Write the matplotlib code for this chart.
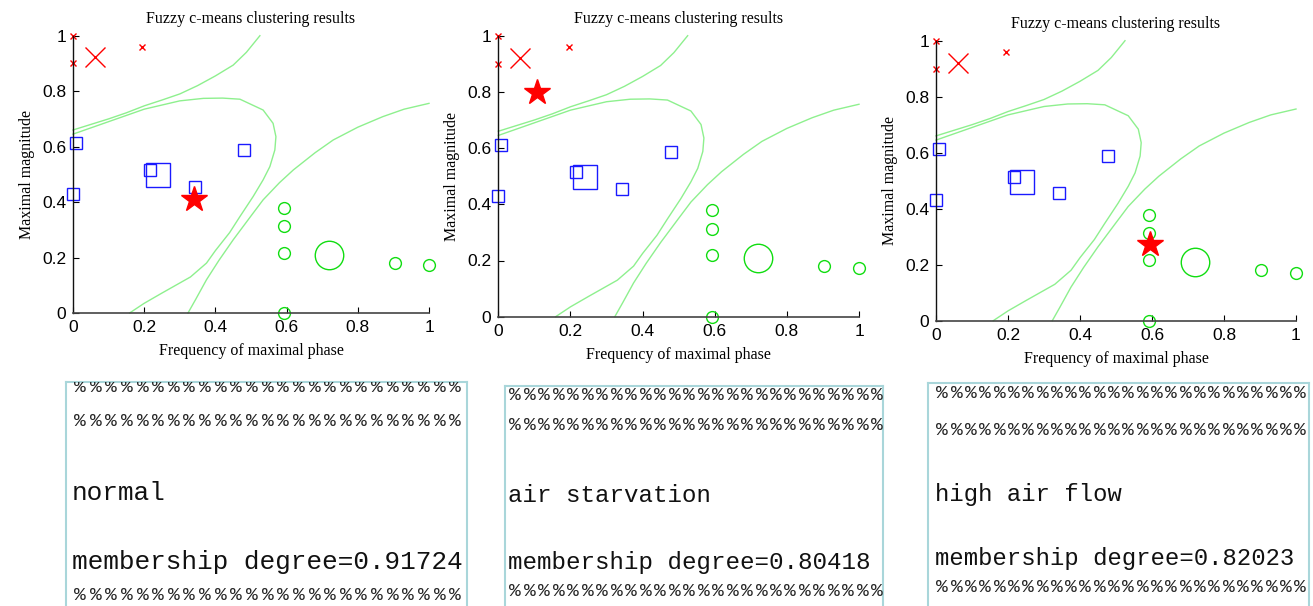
import matplotlib
matplotlib.use("Agg")
import matplotlib.pyplot as plt

# ---------------- data ----------------
titles = ["Fuzzy c-means clustering results"] * 3
xlabel = "Frequency of maximal phase"
ylabel = "Maximal magnitude"
tick_vals = [0, 0.2, 0.4, 0.6, 0.8, 1]
tick_labels = ["0", "0.2", "0.4", "0.6", "0.8", "1"]

# cluster 1 (red x)
red_x = [0.0, 0.0, 0.195]
red_y = [1.0, 0.90, 0.96]
red_center = (0.061, 0.922)

# cluster 2 (blue squares)
blue_x = [0.008, 0.0, 0.216, 0.342, 0.479]
blue_y = [0.612, 0.430, 0.514, 0.456, 0.587]
blue_center = (0.24, 0.496)

# cluster 3 (green circles)
green_x = [0.593, 0.593, 0.593, 0.593, 0.904, 1.0]
green_y = [0.378, 0.312, 0.218, 0.0, 0.182, 0.172]
green_center = (0.719, 0.208)

# boundary curves
curveA_x = [0.0, 0.05, 0.1, 0.15, 0.2, 0.25, 0.3, 0.35, 0.4, 0.45, 0.487, 0.525]
curveA_y = [0.660, 0.680, 0.700, 0.722, 0.747, 0.768, 0.790, 0.820, 0.855, 0.894, 0.940, 1.0]

curveB_x = [0.0, 0.1, 0.2, 0.3, 0.366, 0.42, 0.469, 0.534, 0.562, 0.570, 0.567,
            0.553, 0.534, 0.506, 0.469, 0.44, 0.40, 0.375, 0.33, 0.25, 0.20, 0.159]
curveB_y = [0.645, 0.690, 0.735, 0.765, 0.774, 0.775, 0.771, 0.732, 0.684, 0.636, 0.588,
            0.528, 0.480, 0.420, 0.348, 0.290, 0.225, 0.180, 0.130, 0.072, 0.035, 0.0]

curveC_x = [0.323, 0.345, 0.375, 0.41, 0.45, 0.50, 0.534, 0.58, 0.619, 0.68, 0.731,
            0.80, 0.87, 0.93, 1.0]
curveC_y = [0.0, 0.05, 0.12, 0.19, 0.264, 0.35, 0.408, 0.47, 0.516, 0.578, 0.624,
            0.670, 0.708, 0.735, 0.756]

# test samples (red stars)
star_x = [0.339, 0.108, 0.594]
star_y = [0.41, 0.80, 0.274]

# text panels
pct_char = "%"
pct_count = [25, 26, 26]
diagnoses = ["normal", "air starvation", "high air flow"]
memberships = ["0.91724", "0.80418", "0.82023"]

# ---------------- layout ----------------
W, H = 1313, 606
fig = plt.figure(figsize=(W / 100, H / 100), dpi=100)

axes_px = [(73, 429, 35.7, 313), (498.3, 859, 35.7, 316.7), (936, 1296, 40.7, 320.7)]
title_pads = [9, 9, 9]
serif = "Liberation Serif"
sans = "Liberation Sans"
curve_col = "#8ef08e"

for i, (x0, x1, yt, yb) in enumerate(axes_px):
    ax = fig.add_axes([x0 / W, 1 - yb / H, (x1 - x0) / W, (yb - yt) / H])
    ax.set_xlim(0, 1)
    ax.set_ylim(0, 1)
    for s in ["top", "right"]:
        ax.spines[s].set_visible(False)
    ax.spines["left"].set_linewidth(1.0)
    ax.spines["left"].set_color("#111111")
    ax.spines["bottom"].set_linewidth(1.2)
    ax.spines["bottom"].set_color("#444444")
    ax.set_xticks(tick_vals)
    ax.set_xticklabels(tick_labels)
    ax.set_yticks(tick_vals)
    ax.set_yticklabels(tick_labels)
    ax.tick_params(direction="in", length=4, width=0.8, labelsize=12.5, pad=5)
    for lab in ax.get_xticklabels() + ax.get_yticklabels():
        lab.set_fontfamily(sans)

    for cx, cy in [(curveA_x, curveA_y), (curveB_x, curveB_y), (curveC_x, curveC_y)]:
        ax.plot(cx, cy, color=curve_col, lw=1.0, clip_on=False)

    ax.plot(red_x, red_y, "x", color="red", ms=5, mew=1.0, clip_on=False)
    ax.plot([red_center[0]], [red_center[1]], "x", color="red", ms=15, mew=1.0, clip_on=False)
    ax.plot(blue_x, blue_y, "s", mfc="none", mec="#1a1aff", ms=8.5, mew=1.0, clip_on=False)
    ax.plot([blue_center[0]], [blue_center[1]], "s", mfc="none", mec="#1a1aff", ms=17, mew=1.0, clip_on=False)
    ax.plot(green_x, green_y, "o", mfc="none", mec="#11dd11", ms=8.5, mew=1.0, clip_on=False)
    ax.plot([green_center[0]], [green_center[1]], "o", mfc="none", mec="#11dd11", ms=20.5, mew=1.0, clip_on=False)
    ax.plot([star_x[i]], [star_y[i]], "*", color="red", ms=19, clip_on=False, zorder=5)

    ax.set_title(titles[i], fontfamily=serif, fontsize=11.5, pad=title_pads[i])
    ax.set_xlabel(xlabel, fontfamily=serif, fontsize=11.5, labelpad=6)
    ax.set_ylabel(ylabel, fontfamily=serif, fontsize=11.5, labelpad=5)

# ---------------- text boxes ----------------
boxes_px = [(66, 467, 382), (505, 883, 386), (928, 1309, 383)]
text_left_px = [72, 508, 935]
row_y_px = [
    [388, 421, 493, 562, 595],
    [395, 425, 495, 562, 592],
    [393, 430, 494, 558, 588],
]
font_sizes = [18.8, 17.4, 17.2]
pitch_px = [15.64, 14.48, 14.32]
border_col = "#a9d6da"
mono = "Liberation Mono"
extra = 0.02

for i, (bx0, bx1, by) in enumerate(boxes_px):
    bax = fig.add_axes([bx0 / W, -extra, (bx1 - bx0) / W, (1 - by / H) + extra])
    bax.set_xlim(bx0, bx1)
    bax.set_ylim(H * (1 + extra), by)
    bax.set_xticks([])
    bax.set_yticks([])
    for s in ["left", "right", "top"]:
        bax.spines[s].set_color(border_col)
        bax.spines[s].set_linewidth(1.5)
    bax.spines["bottom"].set_visible(False)
    rows = row_y_px[i]
    # rows of percent signs
    for yy in [rows[0], rows[1], rows[4]]:
        for k in range(pct_count[i]):
            bax.text(text_left_px[i] + (k + 0.5) * pitch_px[i], yy, pct_char,
                     fontfamily=mono, fontsize=14, color="#222222",
                     va="center", ha="center", clip_on=True)
    bax.text(text_left_px[i], rows[2], diagnoses[i], fontfamily=mono,
             fontsize=font_sizes[i], color="#111111", va="center", ha="left")
    bax.text(text_left_px[i], rows[3], "membership degree=" + memberships[i],
             fontfamily=mono, fontsize=font_sizes[i], color="#111111",
             va="center", ha="left")

fig.savefig("out.png", dpi=100)
